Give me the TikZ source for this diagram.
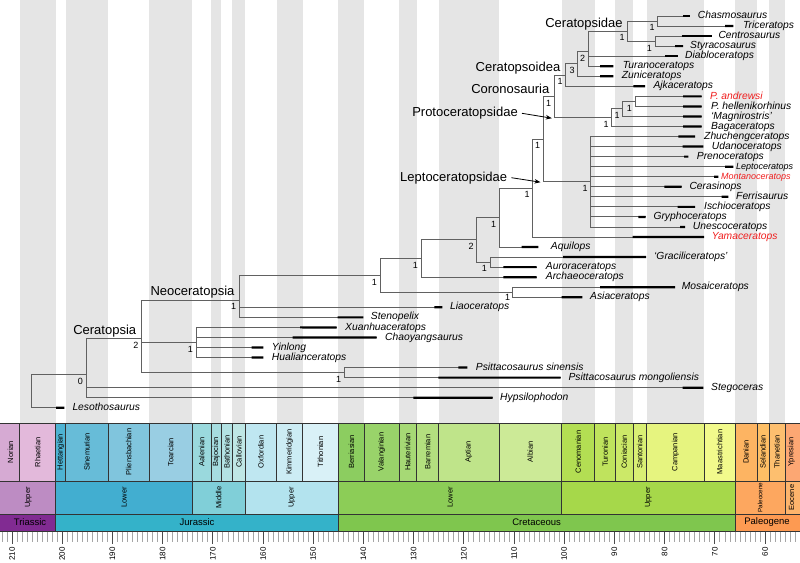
\documentclass[tikz,border=0pt]{standalone}
\usepackage{fontspec}
\setmainfont{Liberation Sans}
\usetikzlibrary{arrows.meta}
% stage colours
\definecolor{Norian}{HTML}{D6AAD3}
\definecolor{Rhaetian}{HTML}{E3B9DB}
\definecolor{Hettangian}{HTML}{4EB3D3}
\definecolor{Sinemurian}{HTML}{67BCD8}
\definecolor{Pliensbachian}{HTML}{80C5DD}
\definecolor{Toarcian}{HTML}{99CEE3}
\definecolor{Aalenian}{HTML}{9AD9DD}
\definecolor{Bajocian}{HTML}{A6DDE0}
\definecolor{Bathonian}{HTML}{B3E2E3}
\definecolor{Callovian}{HTML}{BFE7E5}
\definecolor{Oxfordian}{HTML}{BFE7F1}
\definecolor{Kimmeridgian}{HTML}{CCECF4}
\definecolor{Tithonian}{HTML}{D9F1F7}
\definecolor{Berriasian}{HTML}{8CCD60}
\definecolor{Valanginian}{HTML}{99D36A}
\definecolor{Hauterivian}{HTML}{A6D975}
\definecolor{Barremian}{HTML}{B3DF7F}
\definecolor{Aptian}{HTML}{BFE48A}
\definecolor{Albian}{HTML}{CCEA97}
\definecolor{Cenomanian}{HTML}{B3DE53}
\definecolor{Turonian}{HTML}{BFE35D}
\definecolor{Coniacian}{HTML}{CCE968}
\definecolor{Santonian}{HTML}{D9EF74}
\definecolor{Campanian}{HTML}{E6F47F}
\definecolor{Maastrichtian}{HTML}{F2FA8C}
\definecolor{Danian}{HTML}{FDB462}
\definecolor{Selandian}{HTML}{FEBF65}
\definecolor{Thanetian}{HTML}{FDBF6F}
\definecolor{Ypresian}{HTML}{FCA773}
% series colours
\definecolor{uTri}{HTML}{BD8CC3}
\definecolor{lJur}{HTML}{42AED0}
\definecolor{mJur}{HTML}{80CFD8}
\definecolor{uJur}{HTML}{B3E3EE}
\definecolor{lCre}{HTML}{8CCD57}
\definecolor{uCre}{HTML}{A6D84A}
\definecolor{Paleoc}{HTML}{FDA75F}
\definecolor{Eoc}{HTML}{FDB46C}
% period colours
\definecolor{Triassic}{HTML}{812B92}
\definecolor{Jurassic}{HTML}{34B2C9}
\definecolor{Cretaceous}{HTML}{7FC64E}
\definecolor{Paleogene}{HTML}{FD9A52}
\definecolor{taxred}{HTML}{F01E1E}
\begin{document}
\begin{tikzpicture}[x=1pt,y=-1pt,
  br/.style={draw=black!62,line width=0.9pt},
  rng/.style={draw=black,line width=2.2pt},
  tx/.style={font=\fontsize{10.3}{12}\selectfont\itshape,anchor=mid west,inner sep=0pt},
  txs/.style={font=\fontsize{9}{11}\selectfont\itshape,anchor=mid west,inner sep=0pt},
  redtx/.style={text=taxred},
  clade/.style={font=\fontsize{13}{15}\selectfont,inner sep=0pt},
  supp/.style={font=\fontsize{9}{10}\selectfont,anchor=north east,inner sep=0pt},
  arr/.style={-{Stealth[length=6pt,width=4.5pt]},line width=0.8pt,draw=black},
  band/.style={fill=black!10},
  ts/.style={draw=black!80,line width=0.7pt},
  stl/.style={font=\fontsize{7.5}{9}\selectfont,rotate=90,inner sep=0pt},
  perl/.style={font=\fontsize{9.5}{11}\selectfont,inner sep=0pt},
  mintick/.style={draw=black!35,line width=0.7pt},
  majtick/.style={draw=black!70,line width=0.9pt},
  axl/.style={font=\fontsize{8}{9}\selectfont,rotate=90,anchor=east,inner sep=0pt}
]
\useasboundingbox (0,0) rectangle (800,562);
\clip (0,0) rectangle (800,562);
\fill[white] (0,0) rectangle (800,562);

% background stage bands
\foreach \a/\b in {19.53/55.67,65.71/108.38,149.05/192.22,211.29/221.33,232.38/245.43,276.55/302.66,338.3/364.4,399.04/416.61,438.7/498.94,561.69/594.82,615.4/632.97,646.53/704.26,734.88/756.97,769.02/785.08}
  \fill[band] (\a,0) rectangle (\b,423);

% ---------- tips ----------
\coordinate (t1) at (690,16.00);
\coordinate (t2) at (733.3,26.05);
\coordinate (t3) at (711.7,36.09);
\coordinate (t4) at (683,46.14);
\coordinate (t5) at (678.3,56.18);
\coordinate (t6) at (613.3,66.23);
\coordinate (t7) at (613.3,76.27);
\coordinate (t8) at (645,86.32);
\coordinate (t9) at (701.7,96.36);
\coordinate (t10) at (701.7,106.41);
\coordinate (t11) at (701.7,116.45);
\coordinate (t12) at (701.7,126.50);
\coordinate (t13) at (695,136.54);
\coordinate (t14) at (703.3,146.59);
\coordinate (t15) at (688.3,156.63);
\coordinate (t16) at (733.3,166.68);
\coordinate (t17) at (718.3,176.72);
\coordinate (t18) at (681.7,186.77);
\coordinate (t19) at (728.3,196.81);
\coordinate (t20) at (695,206.86);
\coordinate (t21) at (645.7,216.90);
\coordinate (t22) at (685,226.95);
\coordinate (t23) at (704,236.99);
\coordinate (t24) at (538.3,247.04);
\coordinate (t25) at (646,257.08);
\coordinate (t26) at (536.7,267.13);
\coordinate (t27) at (536.7,277.17);
\coordinate (t28) at (675,287.22);
\coordinate (t29) at (582.3,297.26);
\coordinate (t30) at (442.3,307.31);
\coordinate (t31) at (363.3,317.35);
\coordinate (t32) at (336.7,327.40);
\coordinate (t33) at (376.7,337.44);
\coordinate (t34) at (263.3,347.49);
\coordinate (t35) at (263.3,357.53);
\coordinate (t36) at (467.3,367.58);
\coordinate (t37) at (560.7,377.62);
\coordinate (t38) at (703.3,387.67);
\coordinate (t39) at (492.7,397.71);
\coordinate (t40) at (64.3,407.76);

% ---------- internal nodes ----------
\coordinate (nChasm) at (657.7,21.03);
\coordinate (nCentro) at (655,41.12);
\coordinate (nCtd) at (627.7,31.07);
\coordinate (nTwo) at (588.3,51.16);
\coordinate (nThree) at (577.7,63.71);
\coordinate (nCsd) at (565.7,75.02);
\coordinate (nPA) at (635,101.38);
\coordinate (nPB) at (622.7,108.92);
\coordinate (nPC) at (611.7,117.71);
\coordinate (nCor) at (554.3,96.36);
\coordinate (nLep) at (590.7,181.74);
\coordinate (nA) at (543.3,139.05);
\coordinate (nB) at (532.7,188.02);
\coordinate (nC) at (499.3,217.53);
\coordinate (nGA) at (490,262.1);
\coordinate (nD) at (476.7,239.82);
\coordinate (nE) at (421,258.5);
\coordinate (nMA) at (512.3,292.24);
\coordinate (nF) at (380,275.37);
\coordinate (nNeo) at (239.3,300.01);
\coordinate (nChao) at (196,342.47);
\coordinate (nPsit) at (344.3,372.6);
\coordinate (nCer) at (141.7,338.36);
\coordinate (nZero) at (86,374.58);
\coordinate (root) at (31,391.17);

% ---------- branches ----------
\foreach \p/\c in {nChasm/t1,nChasm/t2,nCentro/t3,nCentro/t4,nCtd/nChasm,nCtd/nCentro,
  nTwo/nCtd,nTwo/t5,nTwo/t6,nThree/nTwo,nThree/t7,nCsd/nThree,nCsd/t8,
  nPA/t9,nPA/t10,nPB/nPA,nPB/t11,nPC/nPB,nPC/t12,nCor/nCsd,nCor/nPC,
  nLep/t13,nLep/t14,nLep/t15,nLep/t16,nLep/t17,nLep/t18,nLep/t19,nLep/t20,nLep/t21,nLep/t22,
  nA/nCor,nA/nLep,nB/nA,nB/t23,nC/nB,nC/t24,nGA/t25,nGA/t26,nD/nC,nD/nGA,nE/nD,nE/t27,
  nMA/t28,nMA/t29,nF/nE,nF/nMA,nNeo/nF,nNeo/t30,nNeo/t31,
  nChao/t32,nChao/t33,nChao/t34,nChao/t35,nPsit/t36,nPsit/t37,
  nCer/nNeo,nCer/nChao,nCer/nPsit,nZero/nCer,nZero/t38,nZero/t39,root/nZero,root/t40}
  \draw[br] (\p) |- (\c);

% ---------- stratigraphic ranges ----------
\foreach \i/\b in {1/683,2/725,3/681.7,4/675,5/665,6/600,7/600,8/633.3,9/683,10/683,11/683,12/683,
  13/678.3,14/682.7,15/684,16/725,17/714,18/664.3,19/721.7,20/677.7,21/638.3,22/680,23/632.7,
  24/521.7,25/563,26/503.3,27/503.3,28/600,29/561.7,30/434.3,31/337.7,32/300,33/292.7,
  34/251.7,35/251.7,36/458.3,37/438.3,38/682.7,39/413.3,40/56}
  \draw[rng] (\b,{16+10.045*(\i-1)}) -- (t\i);

% ---------- taxon labels ----------
\node[tx] (L1) at (697.7,16.00) {Chasmosaurus};
\node[tx] (L2) at (743,26.05) {Triceratops};
\node[tx] (L3) at (718.3,36.09) {Centrosaurus};
\node[tx] (L4) at (690,46.14) {Styracosaurus};
\node[tx] (L5) at (685,56.18) {Diabloceratops};
\node[tx] (L6) at (622.7,66.23) {Turanoceratops};
\node[tx] (L7) at (621.7,76.27) {Zuniceratops};
\node[tx] (L8) at (653.3,86.32) {Ajkaceratops};
\node[tx,redtx] (L9) at (710,96.36) {P. andrewsi};
\node[tx] (L10) at (711,106.41) {P. hellenikorhinus};
\node[tx] (L11) at (711,116.45) {‘Magnirostris’};
\node[tx] (L12) at (711,126.50) {Bagaceratops};
\node[tx] (L13) at (704,136.54) {Zhuchengceratops};
\node[tx] (L14) at (711.7,146.59) {Udanoceratops};
\node[tx] (L15) at (696.7,156.63) {Prenoceratops};
\node[txs] (L16) at (736,166.68) {Leptoceratops};
\node[txs,redtx] (L17) at (721,176.72) {Montanoceratops};
\node[tx] (L18) at (689.3,186.77) {Cerasinops};
\node[tx] (L19) at (736,196.81) {Ferrisaurus};
\node[tx] (L20) at (704,206.86) {Ischioceratops};
\node[tx] (L21) at (653.3,216.90) {Gryphoceratops};
\node[tx] (L22) at (692.7,226.95) {Unescoceratops};
\node[tx,redtx] (L23) at (711.7,236.99) {Yamaceratops};
\node[tx] (L24) at (550.7,247.04) {Aquilops};
\node[tx] (L25) at (654,257.08) {‘Graciliceratops’};
\node[tx] (L26) at (545.7,267.13) {Auroraceratops};
\node[tx] (L27) at (545.7,277.17) {Archaeoceratops};
\node[tx] (L28) at (681.7,287.22) {Mosaiceratops};
\node[tx] (L29) at (590,297.26) {Asiaceratops};
\node[tx] (L30) at (450,307.31) {Liaoceratops};
\node[tx] (L31) at (370.7,317.35) {Stenopelix};
\node[tx] (L32) at (345,327.40) {Xuanhuaceratops};
\node[tx] (L33) at (385,337.44) {Chaoyangsaurus};
\node[tx] (L34) at (271.7,347.49) {Yinlong};
\node[tx] (L35) at (271.7,357.53) {Hualianceratops};
\node[tx] (L36) at (475.7,367.58) {Psittacosaurus sinensis};
\node[tx] (L37) at (568.3,377.62) {Psittacosaurus mongoliensis};
\node[tx] (L38) at (711,387.67) {Stegoceras};
\node[tx] (L39) at (500,397.71) {Hypsilophodon};
\node[tx] (L40) at (72.3,407.76) {Lesothosaurus};

% ---------- support values ----------
\foreach \n/\v in {nChasm/1,nCentro/1,nCtd/1,nTwo/2,nThree/3,nCsd/1,nPA/1,nPB/1,nPC/1,nCor/1,
  nLep/1,nA/1,nB/1,nC/1,nGA/1,nD/2,nE/1,nF/1,nNeo/1,nChao/1,nPsit/1,nCer/2,nZero/0}
  \node[supp] (s\n) at ([shift={(-3,3.5)}]\n) {\v};
\node[supp] (snMA) at ([shift={(-2,1.8)}]nMA) {1};

% ---------- clade names ----------
\node[clade] (cCeratopsidae) at (584,24) {Ceratopsidae};
\node[clade] (cCeratopsoidea) at (518,68.3) {Ceratopsoidea};
\node[clade] (cCoronosauria) at (510.3,89.3) {Coronosauria};
\node[clade] (cProto) at (465,113.3) {Protoceratopsidae};
\node[clade] (cLepto) at (453.7,177.7) {Leptoceratopsidae};
\node[clade] (cNeo) at (192.5,292.3) {Neoceratopsia};
\node[clade] (cCeratopsia) at (104.7,330.7) {Ceratopsia};
\coordinate (aProto) at (551.8,118.2);
\coordinate (aLepto) at (540.5,182.2);
\draw[arr] ([xshift=4pt]cProto.east) -- (aProto);
\draw[arr] ([xshift=4pt]cLepto.east) -- (aLepto);

% ---------- time scale: stages ----------
\foreach \a/\b/\lx/\nm in {-80/19.53/10.5/Norian,19.53/55.67/37.6/Rhaetian,55.67/65.71/60.7/Hettangian,
  65.71/108.38/87/Sinemurian,108.38/149.05/128.7/Pliensbachian,149.05/192.22/170.6/Toarcian,
  192.22/211.29/201.8/Aalenian,211.29/221.33/216.3/Bajocian,221.33/232.38/226.9/Bathonian,
  232.38/245.43/238.9/Callovian,245.43/276.55/261/Oxfordian,276.55/302.66/289.6/Kimmeridgian,
  302.66/338.3/320.5/Tithonian,338.3/364.4/351.4/Berriasian,364.4/399.04/381.7/Valanginian,
  399.04/416.61/407.8/Hauterivian,416.61/438.7/427.7/Barremian,438.7/498.94/468.8/Aptian,
  498.94/561.69/530.3/Albian,561.69/594.82/578.3/Cenomanian,594.82/615.4/605.1/Turonian,
  615.4/632.97/624.2/Coniacian,632.97/646.53/639.8/Santonian,646.53/704.26/675.4/Campanian,
  704.26/734.88/719.6/Maastrichtian,734.88/756.97/745.9/Danian,756.97/769.02/763/Selandian,
  769.02/785.08/777/Thanetian,785.08/826.3/791.5/Ypresian}
{
  \filldraw[ts,fill=\nm] (\a,423) rectangle (\b,481);
  \node[stl] (st\nm) at (\lx,452) {\nm};
}
% series
\foreach \a/\b/\lx/\c/\lab in {-80/55.67/28.3/uTri/Upper,55.67/192.22/124/lJur/Lower,
  192.22/245.43/218.8/mJur/Middle,245.43/338.3/291.9/uJur/Upper,338.3/561.69/450/lCre/Lower,
  561.69/734.88/648.3/uCre/Upper,785.08/826.3/791.5/Eoc/Eocene}
{
  \filldraw[ts,fill=\c] (\a,481) rectangle (\b,514);
  \node[stl] (se\c) at (\lx,497.5) {\lab};
}
\filldraw[ts,fill=Paleoc] (734.88,481) rectangle (785.08,514);
\node[stl,font=\fontsize{6.3}{7}\selectfont] (sePaleoc) at (760,497.5) {Paleocene};
% periods
\foreach \a/\b/\lx/\nm in {-80/55.67/30/Triassic,55.67/338.3/197/Jurassic,
  338.3/734.88/536.6/Cretaceous,734.88/826.3/767/Paleogene}
{
  \filldraw[ts,fill=\nm] (\a,514) rectangle (\b,531);
  \node[perl] (pe\nm) at (\lx,522.5) {\nm};
}

% ---------- axis ----------
\foreach \i in {-2,...,156}
  \draw[mintick] ({12+5.02*\i},531.5) -- ++(0,10);
\foreach \i [evaluate=\i as \lab using {int(210-\i)}] in {0,10,...,150}
{
  \draw[majtick] ({12+5.02*\i},531.5) -- ++(0,12.5);
  \node[axl] (ax\lab) at ({12+5.02*\i},547) {\lab};
}
\end{tikzpicture}
\end{document}
